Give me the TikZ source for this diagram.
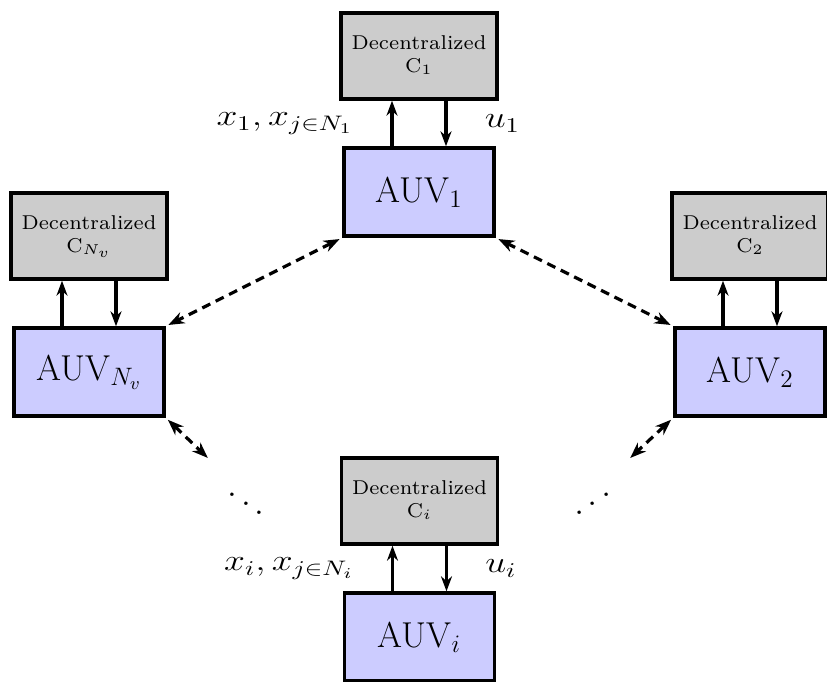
\RequirePackage{fix-cm}
\documentclass[tikz,border=0pt]{standalone}
\usepackage{amsmath,amssymb,graphicx}
\usetikzlibrary{arrows.meta,positioning,calc}
\newcommand{\ctrltext}[1]{\scalebox{1.43}{\fontsize{7}{8}\selectfont\begin{tabular}{@{}c@{}}Decentralized\\C$_{#1}$\end{tabular}}}
\begin{document}
\begin{tikzpicture}[x=0.5pt, y=0.5pt, >={Stealth[length=7.5pt, width=5.5pt]},
  auv/.style={draw, line width=1.7pt, fill=blue!20, minimum width=75pt, minimum height=44pt, font=\fontsize{18}{21}\selectfont},
  ctrl/.style={draw, line width=1.7pt, fill=gray!40, minimum width=78pt, minimum height=43pt, inner sep=1pt},
  sig/.style={->, line width=1.6pt},
  comm/.style={{Stealth[length=8pt, width=6pt]}-{Stealth[length=8pt, width=6pt]}, line width=1.6pt, dash pattern=on 4.5pt off 3pt, shorten <=1.5pt, shorten >=1.5pt},
  lbl/.style={font=\fontsize{15}{18}\selectfont, xscale=1.25}]
\useasboundingbox (0,0) rectangle (827,-682);
\foreach \n/\x/\y/\s in {1/419/192/1, nv/89/372/N_v, 2/750/372/2, i/419.5/637/i} {
  \node[auv] (a\n) at (\x,-\y) {AUV$_{\s}$};
  \node[ctrl] (c\n) at (\x,-\y+136) {\ctrltext{\s}};
  \draw[sig] ($(a\n.north)+(-27,0)$) -- ($(c\n.south)+(-27,0)$) coordinate[midway] (up\n);
  \draw[sig] ($(c\n.south)+(27,0)$) -- ($(a\n.north)+(27,0)$) coordinate[midway] (dn\n);
}
\node[lbl, left=15pt] (lx1) at (up1) {$x_1, x_{j\in N_1}$};
\node[lbl, right=15pt] (lu1) at (dn1) {$u_1$};
\node[lbl, left=15pt] (lxi) at (upi) {$x_i, x_{j\in N_i}$};
\node[lbl, right=15pt] (lui) at (dni) {$u_i$};
\coordinate (el) at (210,-460);
\coordinate (er) at (628,-460);
\draw[comm] (a1.south west) -- (anv.north east);
\draw[comm] (a1.south east) -- (a2.north west);
\draw[comm] (anv.south east) -- (el);
\draw[comm] (a2.south west) -- (er);
\node[scale=1.5, font=\fontsize{12}{14}\selectfont] (dl) at (246,-495) {$\ddots$};
\node[xscale=-1.5, yscale=1.5, font=\fontsize{12}{14}\selectfont] (dr) at (593,-495) {$\ddots$};
\end{tikzpicture}
\end{document}
